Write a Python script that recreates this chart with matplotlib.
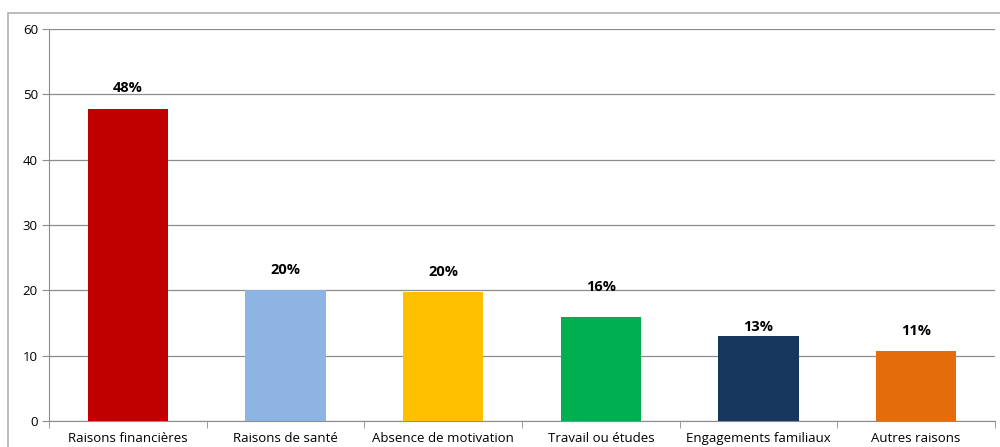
import matplotlib.pyplot as plt
import numpy as np
from matplotlib.patches import Rectangle

categories = ["Raisons financières", "Raisons de santé", "Absence de motivation",
              "Travail ou études", "Engagements familiaux", "Autres raisons"]
values = [47.8, 20.1, 19.8, 15.9, 13.0, 10.7]
labels = ["48%", "20%", "20%", "16%", "13%", "11%"]
colors = ["#C00000", "#8DB4E2", "#FFC000", "#00B050", "#17375E", "#E46C0A"]

# label offsets above each bar (manually placed in the original)
label_gap = [3.2, 3.0, 3.0, 4.6, 1.4, 3.1]

plt.rcParams['font.family'] = ['Open Sans', 'DejaVu Sans']

fig = plt.figure(figsize=(10, 4.47), dpi=100)
ax = fig.add_axes([0.049, 0.058, 0.946, 0.877])

x = np.arange(len(categories))
ax.bar(x, values, width=0.51, color=colors, zorder=3)

for xi, v, lab, g in zip(x, values, labels, label_gap):
    ax.text(xi, v + g, lab, ha="center", va="center", fontsize=10.5, fontweight="bold")

ax.set_xlim(-0.5, len(categories) - 0.5)
ax.set_ylim(0, 60)
ax.set_yticks(range(0, 61, 10))
ax.grid(axis="y", color="#8c8c8c", linewidth=0.9, zorder=0)

ax.set_xticks(x)
ax.set_xticklabels(categories, fontsize=9.5)
ax.set_xticks(np.arange(-0.5, len(categories), 1), minor=True)
ax.tick_params(axis="x", which="major", length=0, pad=8)
ax.tick_params(axis="x", which="minor", length=5, color="#8c8c8c", direction="out")
ax.tick_params(axis="y", labelsize=9.5, length=5, color="#8c8c8c", pad=3)

for side in ["top", "right"]:
    ax.spines[side].set_visible(False)
for side in ["left", "bottom"]:
    ax.spines[side].set_color("#8c8c8c")

# outer chart frame
fig.patches.append(Rectangle((0.008, -0.1), 1.1, 1.071, transform=fig.transFigure,
                             fill=False, edgecolor="#b0b0b0", linewidth=1.2))

fig.savefig("out.png", dpi=100)
